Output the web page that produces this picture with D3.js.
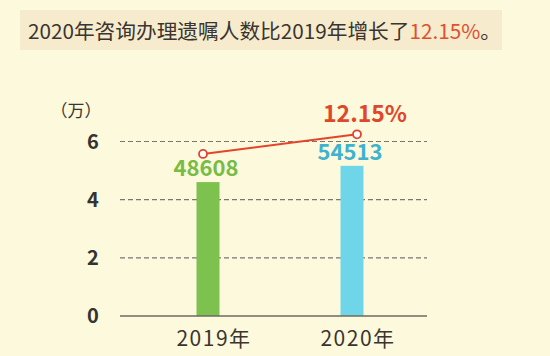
<!DOCTYPE html>
<html>
<head>
<meta charset="utf-8">
<script src="https://cdn.jsdelivr.net/npm/d3@7"></script>
<style>
  body { margin: 0; background: #fdf9dc; }
  svg { display: block; font-family: "Noto Sans CJK SC", "Noto Sans", sans-serif; }
</style>
</head>
<body>
<svg id="chart" width="550" height="356"></svg>
<script>
// data
var years = ['2019年', '2020年']
var counts = [48608, 54513]          // persons
var growth = ['12.15%']
var yTicks = [0, 2, 4, 6]            // 万
var barColors = ['#7dc24f', '#6fd6ea']
var labelColors = ['#77bd45', '#3fb2cf']

var svg = d3.select('#chart')

// title box
svg.append('rect')
  .attr('x', 20).attr('y', 10).attr('width', 482).attr('height', 40)
  .attr('fill', '#f7ebcd')
var title = svg.append('text')
  .attr('x', 28).attr('y', 39)
  .attr('font-size', 20.7)
  .attr('fill', '#3a3530')
title.append('tspan').text('2020年咨询办理遗嘱人数比2019年增长了')
title.append('tspan').attr('fill', '#e0502e').text(growth[0])
title.append('tspan').text('。')

// scales
var x = d3.scaleBand().domain(years).range([136, 424]).paddingInner(0.5).paddingOuter(0.25)
var y = d3.scaleLinear().domain([0, 6]).range([316, 141.5])
// bars in the source are drawn a little shorter than the axis
var yBar = d3.scaleLinear().domain([0, 6]).range([316, 150.7])
// the growth line sits on its own scale
var yLine = d3.scaleLinear().domain([0, 60000]).range([316, 116])

var barW = 23

// grid
svg.selectAll('.grid').data(yTicks.filter(function(d){ return d > 0 }))
  .enter().append('line')
  .attr('x1', 120).attr('x2', 427)
  .attr('y1', function(d){ return y(d) }).attr('y2', function(d){ return y(d) })
  .attr('stroke', '#7a7670').attr('stroke-width', 1.2)
  .attr('stroke-dasharray', '5,3')

// y tick labels
svg.selectAll('.ytick').data(yTicks)
  .enter().append('text')
  .attr('x', 93).attr('y', function(d){ return y(d) })
  .attr('dy', '0.36em')
  .attr('text-anchor', 'middle')
  .attr('font-size', 20).attr('font-weight', 'bold')
  .attr('fill', '#333')
  .text(function(d){ return d })

svg.append('text')
  .attr('x', 76).attr('y', 117)
  .attr('text-anchor', 'middle')
  .attr('font-size', 17).attr('fill', '#3a3530')
  .text('（万）')

// bars
svg.selectAll('.bar').data(counts)
  .enter().append('rect')
  .attr('x', function(d, i){ return x(years[i]) + x.bandwidth() / 2 - barW / 2 })
  .attr('y', function(d){ return yBar(d / 10000) })
  .attr('width', barW)
  .attr('height', function(d){ return yBar(0) - yBar(d / 10000) })
  .attr('fill', function(d, i){ return barColors[i] })

// baseline
svg.append('line')
  .attr('x1', 120).attr('x2', 427)
  .attr('y1', y(0)).attr('y2', y(0))
  .attr('stroke', '#6d6963').attr('stroke-width', 1.5)

// value labels
svg.selectAll('.val').data(counts)
  .enter().append('text')
  .attr('x', function(d, i){ return x(years[i]) + x.bandwidth() / 2 - 2 })
  .attr('y', function(d){ return yBar(d / 10000) - 6 })
  .attr('text-anchor', 'middle')
  .attr('font-size', 22).attr('font-weight', 'bold')
  .attr('fill', function(d, i){ return labelColors[i] })
  .text(function(d){ return d })

// growth line
var lx = function(d, i){ return x(years[i]) + x.bandwidth() / 2 + (i === 0 ? -5 : 5) }
svg.append('path')
  .datum(counts)
  .attr('d', d3.line().x(lx).y(function(d){ return yLine(d) }))
  .attr('fill', 'none').attr('stroke', '#e2452c').attr('stroke-width', 2)
svg.selectAll('.pt').data(counts)
  .enter().append('circle')
  .attr('cx', lx).attr('cy', function(d){ return yLine(d) })
  .attr('r', 4)
  .attr('fill', '#fff').attr('stroke', '#e2452c').attr('stroke-width', 1.8)

svg.append('text')
  .attr('x', lx(counts[1], 1) + 8).attr('y', yLine(counts[1]) - 12)
  .attr('text-anchor', 'middle')
  .attr('font-size', 23).attr('font-weight', 'bold')
  .attr('fill', '#e0462a')
  .text(growth[0])

// x labels
svg.selectAll('.xl').data(years)
  .enter().append('text')
  .attr('x', function(d){ return x(d) + x.bandwidth() / 2 + 6 })
  .attr('y', 346)
  .attr('text-anchor', 'middle')
  .attr('font-size', 21).attr('letter-spacing', 1.5)
  .attr('fill', '#3a3530')
  .text(function(d){ return d })
</script>
</body>
</html>
